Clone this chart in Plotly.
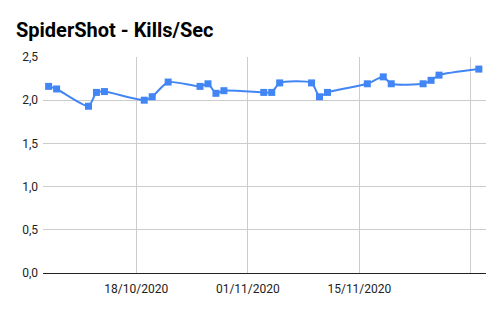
import plotly.graph_objects as go

dates = ["2020-10-07", "2020-10-08", "2020-10-12", "2020-10-13", "2020-10-14",
         "2020-10-19", "2020-10-20", "2020-10-22", "2020-10-26", "2020-10-27",
         "2020-10-28", "2020-10-29", "2020-11-03", "2020-11-04", "2020-11-05",
         "2020-11-09", "2020-11-10", "2020-11-11", "2020-11-16", "2020-11-18",
         "2020-11-19", "2020-11-23", "2020-11-24", "2020-11-25", "2020-11-30"]
kills_per_sec = [2.16, 2.13, 1.93, 2.09, 2.10,
                 2.00, 2.04, 2.21, 2.16, 2.19,
                 2.08, 2.11, 2.09, 2.09, 2.20,
                 2.20, 2.04, 2.09, 2.19, 2.27,
                 2.19, 2.19, 2.23, 2.29, 2.36]

x_tick_vals = ["2020-10-18", "2020-11-01", "2020-11-15", "2020-11-29"]
x_tick_text = ["18/10/2020", "01/11/2020", "15/11/2020", ""]
y_tick_vals = [0, 0.5, 1.0, 1.5, 2.0, 2.5]

fig = go.Figure()
fig.add_trace(go.Scatter(
    x=dates, y=kills_per_sec, mode="lines+markers",
    line=dict(color="#4285F4", width=2, shape="spline", smoothing=0.6),
    marker=dict(symbol="square", size=7, color="#4285F4"),
    showlegend=False,
))

fig.update_layout(
    width=502, height=310,
    margin=dict(l=43, r=16, t=57, b=37),
    paper_bgcolor="white", plot_bgcolor="white",
    separators=",.",
    font=dict(family="Roboto", size=12, color="#222222"),
    title=dict(text="<b>SpiderShot - Kills/Sec</b>", x=16/502, xanchor="left",
               y=1-30/310, yanchor="middle",
               font=dict(family="Roboto", size=20, color="#000000")),
)
fig.update_xaxes(
    type="date", range=["2020-10-06 07:00", "2020-11-30 21:30"],
    tickvals=x_tick_vals, ticktext=x_tick_text,
    showgrid=True, gridcolor="#cccccc", gridwidth=1,
    zeroline=False, showline=False, ticks="", ticklabelstandoff=7,
    tickfont=dict(size=12, color="#222222"),
)
fig.update_yaxes(
    range=[0, 2.5], tickvals=y_tick_vals, tickformat=".1f",
    showgrid=True, gridcolor="#cccccc", gridwidth=1,
    zeroline=True, zerolinecolor="#222222", zerolinewidth=1,
    showline=False, ticks="", ticklabelstandoff=4,
    tickfont=dict(size=12, color="#222222"),
)

fig.write_html("out.html")
